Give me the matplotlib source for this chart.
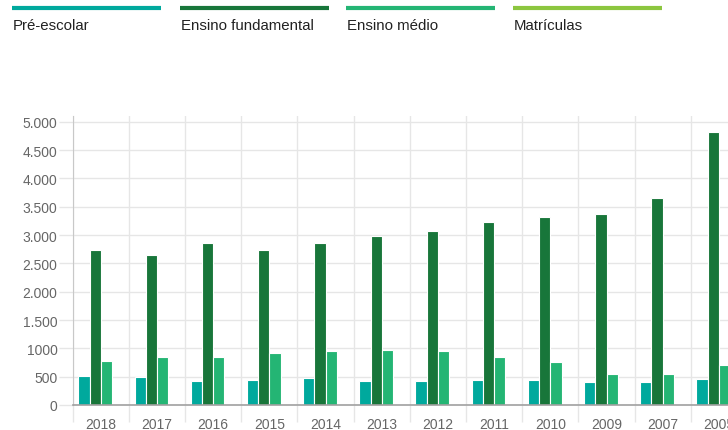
import matplotlib
matplotlib.use("Agg")
import matplotlib.pyplot as plt
from matplotlib.lines import Line2D
import numpy as np

plt.rcParams['font.family'] = ['Liberation Sans', 'DejaVu Sans']

# Data
anos = ["2018", "2017", "2016", "2015", "2014", "2013", "2012", "2011", "2010", "2009", "2007", "2005"]
pre_escolar = [505, 489, 418, 441, 482, 418, 418, 441, 441, 400, 400, 459]
ensino_fundamental = [2730, 2648, 2859, 2730, 2859, 2983, 3065, 3230, 3324, 3365, 3653, 4813]
ensino_medio = [777, 842, 842, 924, 947, 971, 947, 842, 753, 547, 547, 712]
matriculas = [0, 0, 0, 0, 0, 0, 0, 0, 0, 0, 0, 0]

series_nomes = ["Pré-escolar", "Ensino fundamental", "Ensino médio", "Matrículas"]
series_valores = [pre_escolar, ensino_fundamental, ensino_medio, matriculas]
cores = ["#00a99d", "#18763a", "#24b574", "#8cc63f"]

y_ticks = [0, 500, 1000, 1500, 2000, 2500, 3000, 3500, 4000, 4500, 5000]
y_tick_labels = ["0", "500", "1000", "1.500", "2.000", "2.500", "3.000", "3.500", "4.000", "4.500", "5.000"]

W, H = 728, 431
fig = plt.figure(figsize=(W / 100, H / 100), dpi=100)

# Plot area (extends past the right edge of the figure)
left_px, right_px, bottom_px, top_px = 72.7, 747.0, 406.0, 116.5
ax = fig.add_axes([left_px / W, 1 - bottom_px / H,
                   (right_px - left_px) / W, (bottom_px - top_px) / H])

x = np.arange(len(anos))
bw = 0.2
for i, (vals, cor) in enumerate(zip(series_valores, cores)):
    offs = (i - 1.5) * bw
    ax.bar(x + offs, vals, width=bw, color=cor, edgecolor="white", linewidth=0.8, zorder=3)

ymax = 5000 * (bottom_px - top_px) / (bottom_px - 122.7)
ax.set_ylim(0, ymax)
ax.set_xlim(-0.5, len(anos) - 0.5)

# y axis
ax.set_yticks(y_ticks)
ax.set_yticklabels(y_tick_labels)
ax.tick_params(axis="y", length=10, color="#e6e6e6", width=1, labelsize=10,
               labelcolor="#666666", pad=1)
ax.yaxis.grid(True, color="#e6e6e6", linewidth=1, zorder=0)

# x axis: boundaries as gridlines/ticks, labels at category centres
ax.set_xticks(np.arange(len(anos) + 1) - 0.5)
ax.set_xticklabels([])
ax.tick_params(axis="x", which="major", length=12, color="#e6e6e6", width=1)
ax.set_xticks(x, minor=True)
ax.set_xticklabels(anos, minor=True)
ax.tick_params(axis="x", which="minor", length=0, labelsize=10, labelcolor="#666666", pad=9)
ax.xaxis.grid(True, which="major", color="#e6e6e6", linewidth=1, zorder=0)

for s in ["top", "right"]:
    ax.spines[s].set_visible(False)
ax.spines["left"].set_color("#c8c8c8")
ax.spines["left"].set_bounds(0, ymax)
ax.spines["bottom"].set_color("#a0a0a0")
ax.spines["bottom"].set_linewidth(1.2)
ax.spines["bottom"].set_zorder(4)

# Legend across the top: coloured bar with label underneath
leg_x = [12, 180, 346, 513]
leg_w = 149
for lx, nome, cor in zip(leg_x, series_nomes, cores):
    fig.add_artist(Line2D([lx / W, (lx + leg_w) / W], [1 - 9.3 / H, 1 - 9.3 / H],
                          color=cor, linewidth=3, solid_capstyle="butt"))
    fig.text((lx + 1) / W, 1 - 26.5 / H, nome, fontsize=10.8, color="#222222",
             ha="left", va="center")

fig.savefig("out.png", dpi=100)
